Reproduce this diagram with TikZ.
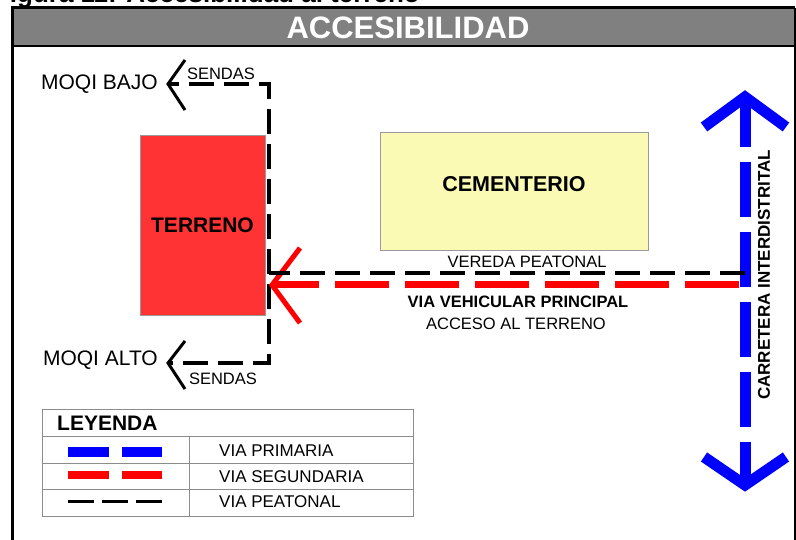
\documentclass[tikz,border=0pt]{standalone}
\usepackage{fontspec}
\setmainfont{Liberation Sans}
\usetikzlibrary{positioning}

\definecolor{bandgray}{HTML}{808080}
\definecolor{lotred}{HTML}{FF3333}
\definecolor{lotyellow}{HTML}{FAFAB4}
\definecolor{roadblue}{HTML}{0000FF}
\definecolor{roadred}{HTML}{FF0000}
\definecolor{rulegray}{HTML}{8C8C8C}

\newcommand{\fs}[1]{\fontsize{#1}{#1}\selectfont}

\begin{document}
\begin{tikzpicture}[x=1pt, y=-1pt,
                    line join=miter,
                    lot/.style={draw=black!40, line width=0.8pt, inner sep=0pt},
                    peatonal/.style={black, line width=3.5pt, dash pattern=on 25pt off 10pt},
                    secundaria/.style={roadred, line width=7pt, dash pattern=on 54pt off 16pt},
                    primaria/.style={roadblue, line width=11pt, dash pattern=on 55pt off 15pt},
                    head/.style={line width=#1},
                    roadtext/.style={inner sep=0pt, font=\fs{16.5}}]
  \useasboundingbox (0,0) rectangle (796,540);
  \clip (0,0) rectangle (796,540);

  % caption, cut by the page edge
  \node[anchor=base east, inner sep=0pt, font=\bfseries\fs{26}] (caption) at (420,2.5) {Figura 11: Accesibilidad al terreno};

  % frame and title band
  \fill[bandgray] (12,8) rectangle (795,46);
  \draw[line width=3pt] (12,540) -- (12,8) -- (795,8);
  \draw[line width=2pt] (12,46) -- (795,46);
  \draw[line width=1.2pt] (795,8) -- (795,540);
  \node[text=white, inner sep=0pt, font=\bfseries\fs{31}] (title) at (408,28) {ACCESIBILIDAD};

  % lots
  \node[lot, fill=lotred, minimum width=125pt, minimum height=180pt, font=\bfseries\fs{21}] (terreno) at (202.5,225) {TERRENO};
  \node[lot, fill=lotyellow, minimum width=268pt, minimum height=118pt] (cementerio) at (514,191) {};
  \node[inner sep=0pt, font=\bfseries\fs{21.5}] (cementerio label) at ([yshift=7pt]cementerio.center) {CEMENTERIO};

  % carretera interdistrital
  \coordinate (norte) at (745,97);
  \coordinate (sur) at (745,485);
  \draw[primaria, dash phase=5pt] (norte) -- (sur);
  \draw[roadblue, head=11pt] (norte) ++(-41,30) -- (norte) -- ++(41,30);
  \draw[roadblue, head=11pt] (sur) ++(-41,-28) -- (sur) -- ++(41,-28);
  \node[inner sep=0pt, rotate=90, font=\bfseries\fs{17}] (carretera) at (764,275) {CARRETERA INTERDISTRITAL};

  % sendas
  \coordinate (bajo tip) at (168,84);
  \coordinate (sendas norte) at (269,84);
  \coordinate (sendas sur) at (269,363);
  \coordinate (alto tip) at (168,363);
  \draw[peatonal, dash phase=14pt] (bajo tip) -- (sendas norte) -- (sendas sur) -- (alto tip);
  \draw[head=3pt] (bajo tip) ++(17,-24) -- (bajo tip) -- ++(17,26);
  \draw[head=3pt] (alto tip) ++(17,-22) -- (alto tip) -- ++(17,26);
  \node[roadtext, anchor=base] (senda bajo) at (221,80) {SENDAS};
  \node[roadtext] (senda alto) at (223,379) {SENDAS};
  \node[roadtext, font=\fs{21}, left=10pt of bajo tip] (moqi bajo) {MOQI BAJO};
  \node[roadtext, font=\fs{21}, left=10pt of alto tip, yshift=3pt] (moqi alto) {MOQI ALTO};

  % via vehicular and vereda
  \coordinate (via tip) at (272,285);
  \coordinate (via end) at (739,285);
  \coordinate (vereda end) at (745,273);
  \draw[secundaria] (via end) -- (via tip);
  \draw[roadred, head=5pt] (via tip) ++(28,-37) -- (via tip) -- ++(28,38);
  \draw[peatonal] (vereda end) -- (sendas norte |- vereda end);
  \node[roadtext, anchor=base] (vereda label) at (527,268) {VEREDA PEATONAL};
  \node[roadtext, font=\bfseries\fs{16.5}] (via label) at (518,302) {VIA VEHICULAR PRINCIPAL};
  \node[roadtext] (acceso label) at (516,324) {ACCESO AL TERRENO};

  % legend
  \draw[rulegray, line width=1pt] (42,409) rectangle (413,516);
  \draw[rulegray, line width=1pt] (42,436) -- (413,436) (42,463) -- (413,463)
                                  (42,489) -- (413,489) (189,436) -- (189,516);
  \node[anchor=west, inner sep=0pt, font=\bfseries\fs{21}] (leyenda) at (57,423) {LEYENDA};
  \foreach \y/\txt in {451/VIA PRIMARIA, 477/VIA SEGUNDARIA, 502/VIA PEATONAL}
    \node[roadtext, font=\fs{17}, anchor=west] (leg-\y) at (219,\y) {\txt};
  \draw[roadblue, line width=10pt, dash pattern=on 41pt off 13pt] (68,452) -- (162,452);
  \draw[roadred, line width=8pt, dash pattern=on 41pt off 13pt] (68,475) -- (162,475);
  \draw[black, line width=3pt, dash pattern=on 26pt off 8pt] (68,501) -- (162,501);
\end{tikzpicture}
\end{document}
